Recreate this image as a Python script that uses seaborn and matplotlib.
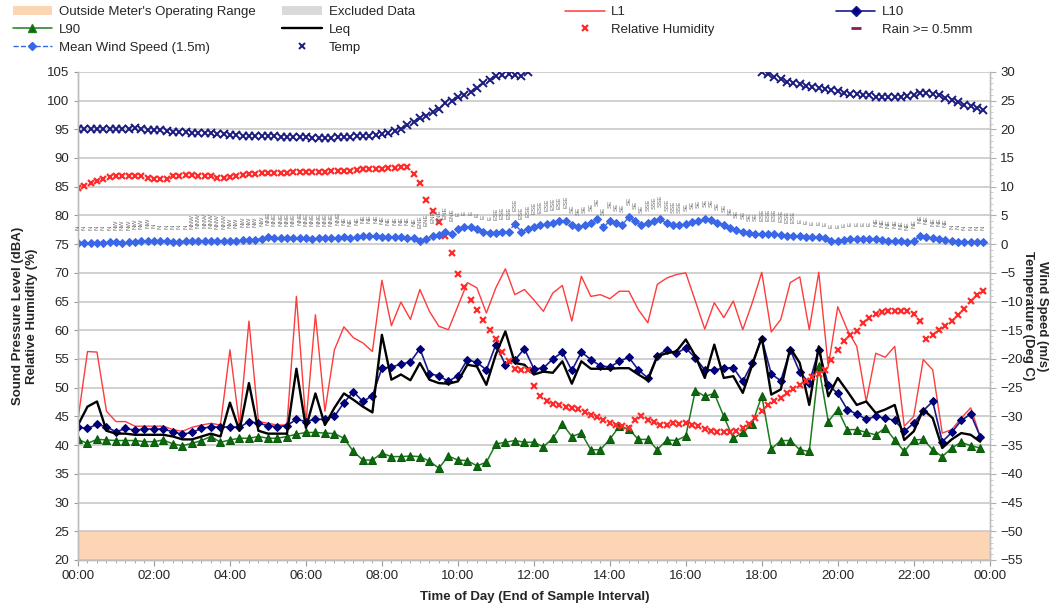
import numpy as np
import pandas as pd
import seaborn as sns
import matplotlib
matplotlib.use("Agg")
from matplotlib import pyplot as plt
from matplotlib.patches import Patch
from matplotlib.lines import Line2D
from matplotlib.ticker import MultipleLocator, FuncFormatter

# 15-minute noise statistics (dBA), 00:00 .. 23:45
l1 = [44.5, 56.3, 56.2, 45.9, 44.1, 44.1, 43.3, 43.3, 43.3, 43.3,
      42.7, 42.4, 43.1, 43.5, 43.8, 43.5, 56.6, 43.5, 61.6, 44.1,
      43.8, 43.5, 43.5, 65.9, 43.8, 62.7, 45.9, 56.6, 60.6, 58.7,
      57.8, 56.3, 68.7, 60.8, 64.9, 61.9, 67.1, 63.3, 60.7, 60.1,
      64.2, 68.3, 67.4, 63.0, 67.4, 70.7, 66.2, 67.1, 65.3, 63.3,
      66.5, 67.8, 61.6, 69.4, 65.9, 66.2, 65.5, 66.8, 66.8, 63.6,
      61.3, 68.0, 69.1, 69.7, 70.0, 65.1, 60.2, 64.8, 62.2, 65.1,
      60.1, 64.8, 70.1, 59.7, 61.9, 68.3, 69.3, 60.1, 70.1, 53.7,
      64.1, 60.1, 57.2, 47.6, 56.0, 55.3, 57.2, 43.3, 45.0, 54.9,
      53.1, 42.1, 42.7, 44.7, 46.5, 41.5]
l10 = [43.1, 42.9, 43.6, 43.2, 42.3, 42.9, 42.6, 42.8, 42.8, 42.8,
       42.3, 41.9, 42.2, 42.9, 43.2, 43.1, 43.2, 43.1, 44.1, 43.8,
       43.4, 43.2, 43.4, 44.5, 44.1, 44.5, 44.5, 45.0, 47.4, 49.3,
       47.6, 48.6, 53.4, 53.6, 54.1, 54.5, 56.8, 52.4, 52.1, 51.1,
       52.1, 54.9, 54.4, 53.1, 57.5, 54.0, 54.8, 56.8, 53.3, 53.4,
       55.0, 56.2, 53.0, 56.2, 54.9, 53.8, 53.6, 54.6, 55.3, 53.1,
       51.7, 55.6, 56.6, 56.0, 56.9, 55.2, 53.1, 53.1, 53.4, 53.5,
       51.1, 54.3, 58.5, 52.4, 51.2, 56.6, 52.7, 50.8, 56.6, 50.5,
       49.0, 46.2, 45.4, 44.5, 45.0, 44.7, 44.3, 42.4, 43.8, 46.0,
       47.6, 40.6, 42.2, 44.3, 45.4, 41.5]
leq = [43.5, 46.7, 47.6, 42.5, 42.0, 42.0, 41.8, 41.8, 41.8, 41.8,
       41.5, 41.0, 41.0, 41.5, 42.0, 41.5, 47.4, 42.5, 50.8, 42.5,
       42.0, 42.0, 42.0, 53.3, 43.0, 49.0, 43.5, 46.5, 49.0, 47.9,
       46.7, 45.7, 59.2, 51.4, 52.3, 51.3, 54.3, 51.4, 50.8, 50.7,
       51.1, 54.0, 53.7, 50.5, 55.8, 59.8, 54.3, 54.0, 52.3, 52.8,
       52.6, 54.6, 50.7, 54.6, 53.3, 53.3, 53.3, 53.4, 53.4, 52.3,
       51.3, 55.5, 56.0, 56.3, 58.4, 55.5, 51.7, 57.5, 51.7, 52.0,
       49.1, 54.0, 58.8, 48.8, 49.7, 56.9, 54.3, 47.0, 57.2, 48.5,
       51.7, 49.4, 47.0, 47.6, 45.6, 46.2, 47.0, 40.9, 42.4, 46.2,
       44.7, 39.5, 41.0, 42.1, 41.8, 40.6]
l90 = [41.0, 40.3, 41.0, 40.9, 40.8, 40.8, 40.8, 40.6, 40.6, 40.9,
       40.2, 39.9, 40.3, 40.8, 41.5, 40.5, 40.9, 41.2, 41.2, 41.5,
       41.2, 41.2, 41.5, 41.9, 42.2, 42.2, 42.1, 42.0, 41.2, 38.9,
       37.4, 37.4, 38.6, 38.0, 38.0, 38.1, 38.0, 37.2, 36.0, 38.1,
       37.4, 37.3, 36.4, 37.0, 40.2, 40.5, 40.8, 40.5, 40.5, 39.7,
       41.2, 43.7, 41.5, 42.1, 39.2, 39.2, 41.0, 43.3, 42.8, 41.0,
       41.0, 39.2, 40.9, 40.8, 41.6, 49.5, 48.5, 49.0, 45.0, 41.2,
       42.2, 43.7, 48.6, 39.3, 40.8, 40.8, 39.2, 38.9, 53.7, 44.1,
       46.2, 42.7, 42.7, 42.2, 41.8, 43.0, 40.9, 38.9, 40.9, 41.0,
       39.2, 38.0, 39.5, 40.5, 39.9, 39.5]

# 10-minute weather data, 00:00 .. 23:50 (one row per hour)
rh = [84.7, 85.2, 85.6, 86.0, 86.4, 86.7,
      86.8, 86.9, 86.9, 86.9, 86.9, 86.6,
      86.3, 86.3, 86.4, 86.8, 86.9, 87.0,
      87.0, 86.9, 86.9, 86.8, 86.6, 86.6,
      86.7, 86.9, 87.1, 87.2, 87.3, 87.4,
      87.4, 87.4, 87.4, 87.4, 87.5, 87.5,
      87.6, 87.6, 87.6, 87.6, 87.7, 87.7,
      87.8, 87.8, 87.9, 88.0, 88.0, 88.0,
      88.1, 88.2, 88.3, 88.4, 88.4, 87.3,
      85.6, 82.6, 80.7, 78.8, 76.5, 73.5,
      69.8, 67.6, 65.2, 63.5, 61.8, 60.0,
      58.4, 56.3, 54.6, 53.3, 53.1, 53.0,
      50.3, 48.5, 47.6, 47.2, 47.0, 46.6,
      46.5, 46.3, 45.7, 45.3, 44.9, 44.3,
      43.8, 43.5, 43.3, 43.0, 44.4, 45.0,
      44.4, 44.0, 43.5, 43.5, 43.8, 43.7,
      43.8, 43.5, 43.3, 42.8, 42.4, 42.2,
      42.2, 42.2, 42.4, 43.0, 43.7, 44.7,
      45.9, 47.0, 47.6, 48.2, 49.1, 49.8,
      50.5, 51.1, 51.9, 52.4, 53.0, 54.9,
      56.6, 58.1, 59.1, 59.8, 61.2, 62.2,
      62.9, 63.1, 63.3, 63.3, 63.3, 63.4,
      62.9, 61.6, 58.5, 59.2, 60.1, 60.8,
      61.6, 62.6, 63.7, 65.1, 66.2, 66.8]
nan = np.nan
temp = [20.0, 20.0, 20.0, 20.0, 20.0, 20.0,
        20.0, 20.0, 20.1, 20.2, 20.0, 19.9,
        19.8, 19.8, 19.7, 19.6, 19.6, 19.5,
        19.4, 19.4, 19.3, 19.3, 19.2, 19.1,
        19.0, 19.0, 18.9, 18.9, 18.9, 18.8,
        18.8, 18.8, 18.7, 18.7, 18.6, 18.6,
        18.6, 18.5, 18.4, 18.5, 18.5, 18.6,
        18.7, 18.7, 18.8, 18.8, 18.9, 19.0,
        19.1, 19.3, 19.7, 20.1, 20.7, 21.3,
        21.9, 22.4, 23.0, 23.6, 24.5, 25.0,
        25.6, 26.0, 26.5, 27.2, 28.0, 28.6,
        29.2, 29.5, 29.7, 29.4, 29.2, 30.0,
        nan, nan, nan, nan, nan, nan,
        nan, nan, nan, nan, nan, nan,
        nan, nan, nan, nan, nan, nan,
        nan, nan, nan, nan, nan, nan,
        nan, nan, nan, nan, nan, nan,
        nan, nan, nan, nan, nan, nan,
        30.0, 29.6, 29.1, 28.8, 28.3, 28.0,
        27.8, 27.6, 27.4, 27.2, 27.0, 26.8,
        26.6, 26.4, 26.2, 26.1, 26.0, 25.9,
        25.7, 25.6, 25.6, 25.6, 25.7, 25.8,
        26.0, 26.3, 26.4, 26.2, 25.9, 25.5,
        25.1, 24.7, 24.3, 24.0, 23.7, 23.4]
wind = [0.2, 0.2, 0.2, 0.2, 0.2, 0.3,
        0.3, 0.2, 0.3, 0.4, 0.5, 0.6,
        0.6, 0.5, 0.5, 0.4, 0.4, 0.5,
        0.5, 0.6, 0.6, 0.6, 0.5, 0.5,
        0.6, 0.6, 0.7, 0.8, 0.8, 0.9,
        1.2, 1.0, 1.0, 1.0, 1.0, 1.1,
        1.0, 0.9, 1.0, 1.0, 1.0, 1.1,
        1.2, 1.0, 1.2, 1.4, 1.5, 1.4,
        1.3, 1.2, 1.2, 1.2, 1.1, 1.0,
        0.6, 0.9, 1.5, 1.6, 2.1, 1.8,
        2.7, 2.9, 2.9, 2.6, 2.2, 2.0,
        2.0, 2.1, 2.2, 3.5, 2.2, 2.6,
        3.0, 3.3, 3.5, 3.7, 4.0, 4.1,
        3.3, 2.9, 3.3, 3.6, 4.4, 2.9,
        4.1, 3.6, 3.4, 4.7, 4.0, 3.3,
        3.6, 4.0, 4.3, 3.6, 3.3, 3.3,
        3.5, 3.9, 4.1, 4.3, 4.2, 3.7,
        3.4, 2.8, 2.4, 2.1, 1.9, 1.8,
        1.8, 1.8, 1.8, 1.6, 1.5, 1.5,
        1.5, 1.3, 1.2, 1.2, 1.0, 0.6,
        0.6, 0.8, 0.9, 0.9, 0.9, 0.9,
        0.9, 0.8, 0.6, 0.6, 0.5, 0.3,
        0.6, 1.4, 1.3, 1.0, 0.9, 0.8,
        0.5, 0.4, 0.3, 0.3, 0.3, 0.3]
# hourly wind direction labels (grey text above wind speed)
wind_dir = ["N", "NW", "N", "NNW", "NW", "NNE", "NNE", "NE", "NE", "ENE", "E", "ESE",
            "ESE", "SE", "SE", "SSE", "SE", "SE", "ESE", "E", "E", "NE", "NE", "N"]

df15 = pd.DataFrame({"time": np.arange(len(l1)) * 0.25,
                     "L1": l1, "L10": l10, "Leq": leq, "L90": l90})
df10 = pd.DataFrame({"time": np.arange(len(rh)) / 6,
                     "rh": rh, "temp": temp, "wind": wind})

sns.set_style("white")
plt.rcParams['font.family'] = ['Liberation Sans', 'DejaVu Sans']
txt = "#262626"

fig = plt.figure(figsize=(10.54, 6.09), dpi=100)
ax = fig.add_axes([0.074, 0.0805, 0.865, 0.8015])
ax2 = ax.twinx()

ax.axhspan(20, 25, color="#fcd5b4", zorder=0, lw=0)
ax.set_axisbelow(True)
ax.yaxis.grid(True, color="#c8c8c8", lw=1.2)

sns.lineplot(data=df15, x="time", y="L1", ax=ax, color="#ff3b3b", lw=1.0,
             estimator=None, legend=False, zorder=3)
sns.lineplot(data=df15, x="time", y="L10", ax=ax, color="#1a1a8c", lw=1.2,
             marker="D", markersize=4.5, mec="#000070", mfc="#000080", estimator=None,
             legend=False, zorder=4)
sns.lineplot(data=df15, x="time", y="L90", ax=ax, color="#1e7b1e", lw=1.1,
             marker="^", markersize=5.5, mec="#0b5a0b", mfc="#0b6a0b", estimator=None,
             legend=False, zorder=4)
sns.lineplot(data=df15, x="time", y="Leq", ax=ax, color="black", lw=1.7,
             estimator=None, legend=False, zorder=5)
sns.lineplot(data=df10, x="time", y="rh", ax=ax, color="#ff2a2a", lw=0,
             marker="x", markersize=5, mew=1.6, mec="#ff2a2a", estimator=None,
             legend=False, zorder=6)

sns.lineplot(data=df10, x="time", y="wind", ax=ax2, color="#3a66e8", lw=1.0, ls="--",
             marker="D", markersize=4, mec="#3a66e8", estimator=None, legend=False)
sns.lineplot(data=df10, x="time", y="temp", ax=ax2, color="#1a1a80", lw=0,
             marker="x", markersize=6, mew=1.4, mec="#1a1a80", estimator=None, legend=False)
for t, w in zip(df10["time"], df10["wind"]):
    ax2.text(t, w + 2.2, wind_dir[int(t) % 24], rotation=90, fontsize=4.5,
             color="#6e6e6e", ha="center", va="bottom")

ax.set_xlim(0, 24)
ax.set_ylim(20, 105)
ax2.set_ylim(-55, 30)
ax.set_xlabel("")
ax.set_ylabel("")
ax2.set_ylabel("")
ax.xaxis.set_major_locator(MultipleLocator(2))
ax.xaxis.set_minor_locator(MultipleLocator(0.25))
ax.xaxis.set_major_formatter(FuncFormatter(lambda v, p: f"{int(round(v)) % 24:02d}:00"))
ax.yaxis.set_major_locator(MultipleLocator(5))
ax2.yaxis.set_major_locator(MultipleLocator(5))
ax2.yaxis.set_minor_locator(MultipleLocator(1))

ax.tick_params(axis="x", which="both", direction="out", bottom=True, colors="#9a9a9a",
               labelcolor=txt, labelsize=9.5, pad=3)
ax.tick_params(axis="x", which="major", length=4)
ax.tick_params(axis="x", which="minor", length=2.5)
ax.tick_params(axis="y", direction="out", left=True, length=3, colors="#9a9a9a",
               labelcolor=txt, labelsize=9.5)
ax2.tick_params(axis="y", which="major", direction="out", right=True, length=4,
                colors="#b0b0b0", labelcolor=txt, labelsize=9.5)
ax2.tick_params(axis="y", which="minor", direction="out", right=True, length=2, colors="#c0c0c0")

for a in (ax, ax2):
    for s in ("top", "left", "bottom", "right"):
        a.spines[s].set_color("#bdbdbd")
        a.spines[s].set_linewidth(1.0)
ax2.spines["right"].set_linestyle(":")
ax.spines["top"].set_visible(False)
ax2.spines["top"].set_visible(False)

fig.text(0.024, 1 - 316 / 609, "Sound Pressure Level (dBA)\nRelative Humidity (%)",
         rotation=90, ha="center", va="center", fontsize=9.5, fontweight="bold",
         color=txt, multialignment="center")
fig.text(0.982, 1 - 316 / 609, "Wind Speed (m/s)\nTemperature (Deg C)",
         rotation=270, ha="center", va="center", fontsize=9.5, fontweight="bold",
         color=txt, multialignment="center")
fig.text(0.507, 1 - 597 / 609, "Time of Day (End of Sample Interval)", ha="center",
         va="center", fontsize=9.5, fontweight="bold", color=txt)

# legend, four separate columns placed to match the header layout
h_range = Patch(facecolor="#fcd5b4", edgecolor="none")
h_excl = Patch(facecolor="#d9d9d9", edgecolor="none")
h_l1 = Line2D([], [], color="#ff3b3b", lw=1.1)
h_l10 = Line2D([], [], color="#1a1a8c", lw=1.2, marker="D", markersize=5, mfc="#000080")
h_l90 = Line2D([], [], color="#1e7b1e", lw=1.1, marker="^", markersize=6, mfc="#0b6a0b")
h_leq = Line2D([], [], color="black", lw=1.7)
h_rh = Line2D([], [], color="#ff2a2a", lw=0, marker="x", markersize=5, mew=1.6)
h_rain = Line2D([], [], color="#8b1a5a", lw=0, marker="_", markersize=7, mew=2)
h_wind = Line2D([], [], color="#3a66e8", lw=1.0, ls="--", marker="D", markersize=4)
h_temp = Line2D([], [], color="#1a1a80", lw=0, marker="x", markersize=5, mew=1.4)

cols = [
    (0.012, [h_range, h_l90, h_wind], ["Outside Meter's Operating Range", "L90", "Mean Wind Speed (1.5m)"]),
    (0.268, [h_excl, h_leq, h_temp], ["Excluded Data", "Leq", "Temp"]),
    (0.536, [h_l1, h_rh], ["L1", "Relative Humidity"]),
    (0.793, [h_l10, h_rain], ["L10", "Rain >= 0.5mm"]),
]
for x0, hs, ls_ in cols:
    leg = fig.legend(hs, ls_, loc="upper left", bbox_to_anchor=(x0, 0.99), frameon=False,
                     fontsize=9.5, handlelength=3.0, handletextpad=0.5, labelspacing=0.42,
                     borderpad=0.0, borderaxespad=0.0)
    for t in leg.get_texts():
        t.set_color(txt)

fig.savefig("out.png", dpi=100)
